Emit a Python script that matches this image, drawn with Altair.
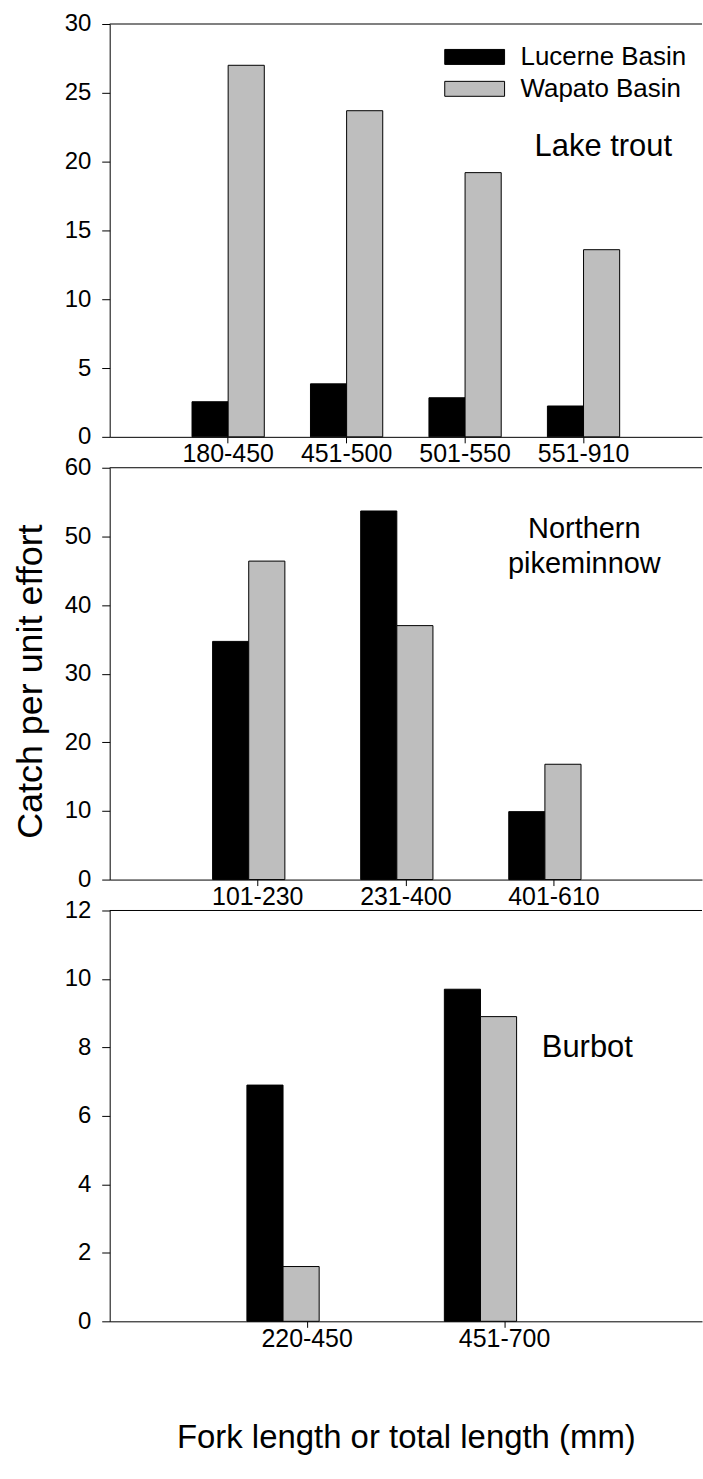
import altair as alt
import pandas as pd

FONT = "Liberation Sans"

basins = ["Lucerne Basin", "Wapato Basin"]
basin_colors = ["#000000", "#bebebe"]

lt_cats = ["180-450", "451-500", "501-550", "551-910"]
lt_lucerne = [2.55, 3.85, 2.84, 2.24]
lt_wapato = [27.0, 23.7, 19.2, 13.6]

np_cats = ["101-230", "231-400", "401-610"]
np_lucerne = [34.7, 53.7, 9.9]
np_wapato = [46.4, 37.0, 16.8]

bb_cats = ["220-450", "451-700"]
bb_lucerne = [6.9, 9.7]
bb_wapato = [1.6, 8.9]

y_title = "Catch per unit effort"
x_title = "Fork length or total length (mm)"

W = 594


def table(cats, luc, wap):
    rows = []
    for c, v in zip(cats, luc):
        rows.append({"size": c, "basin": basins[0], "cpue": v})
    for c, v in zip(cats, wap):
        rows.append({"size": c, "basin": basins[1], "cpue": v})
    return pd.DataFrame(rows)


def panel(cats, luc, wap, ymax, ystep, height, label, lx, ly, lsize,
          legend=False, ytitle=False, xtitle=False):
    df = table(cats, luc, wap)
    one = pd.DataFrame({"k": [0]})

    if legend:
        leg = alt.Legend(
            orient="none", legendX=336, legendY=20, title=None,
            symbolType="M-4,-1H4V1H-4Z", symbolSize=225,
            symbolStrokeColor="black", symbolStrokeWidth=1,
            symbolOffset=17, labelOffset=33, labelFontSize=26,
            labelFont=FONT, labelColor="black", labelLimit=400,
            rowPadding=6, padding=0, direction="vertical",
        )
    else:
        leg = None

    if ytitle:
        yaxis = alt.Axis(values=list(range(0, ymax + 1, ystep)), title=y_title,
                         titleX=-79, titleY=214, titleAngle=270,
                         titleAlign="center", titleBaseline="middle",
                         titleFontSize=36)
    else:
        yaxis = alt.Axis(values=list(range(0, ymax + 1, ystep)), title=None)

    if xtitle:
        xaxis = alt.Axis(title=x_title, titleY=117, titleBaseline="middle",
                         titleFontSize=33, labelAngle=0)
    else:
        xaxis = alt.Axis(title=None, labelAngle=0)

    bars = alt.Chart(df).mark_bar(stroke="black", strokeWidth=1).encode(
        x=alt.X("size:N", sort=cats, axis=xaxis,
                scale=alt.Scale(paddingInner=0.39, paddingOuter=0.695)),
        xOffset=alt.XOffset("basin:N", sort=basins,
                            scale=alt.Scale(paddingInner=0, paddingOuter=0)),
        y=alt.Y("cpue:Q", axis=yaxis,
                scale=alt.Scale(domain=[0, ymax], nice=False, zero=True)),
        color=alt.Color("basin:N", sort=basins,
                        scale=alt.Scale(domain=basins, range=basin_colors),
                        legend=leg),
    )

    top = alt.Chart(one).mark_rule(color="black", strokeWidth=1).encode(
        y=alt.datum(ymax)
    )

    txt = alt.Chart(one).mark_text(
        align="center", baseline="middle", fontSize=lsize, font=FONT,
        color="black", lineHeight=36,
    ).encode(x=alt.value(lx), y=alt.value(ly), text=alt.value(label))

    return alt.layer(bars, top, txt).properties(width=W, height=height)


p1 = panel(lt_cats, lt_lucerne, lt_wapato, 30, 5, 414, "Lake trout", 495, 123,
           31, legend=True)
p2 = panel(np_cats, np_lucerne, np_wapato, 60, 10, 413,
           ["Northern", "pikeminnow"], 476, 61, 29, ytitle=True)
p3 = panel(bb_cats, bb_lucerne, bb_wapato, 12, 2, 412, "Burbot", 479, 138,
           31, xtitle=True)

chart = alt.vconcat(p1, p2, p3, spacing=31, bounds="flush").resolve_scale(
    color="independent", x="independent", y="independent"
).properties(
    padding={"left": 12, "top": 10, "right": 0, "bottom": 5},
    background="white",
).configure_view(stroke=None).configure_axis(
    labelFont=FONT, labelColor="black",
    titleFont=FONT, titleColor="black", titleFontWeight="normal",
    domainColor="black", tickColor="black", domainWidth=1, tickWidth=1,
    grid=False,
).configure_axisX(
    tickSize=6, labelPadding=-1, labelFontSize=25,
).configure_axisY(
    tickSize=8, labelPadding=11, labelFontSize=24,
)

chart.save("out.html", embed_options={"renderer": "svg", "actions": False})
